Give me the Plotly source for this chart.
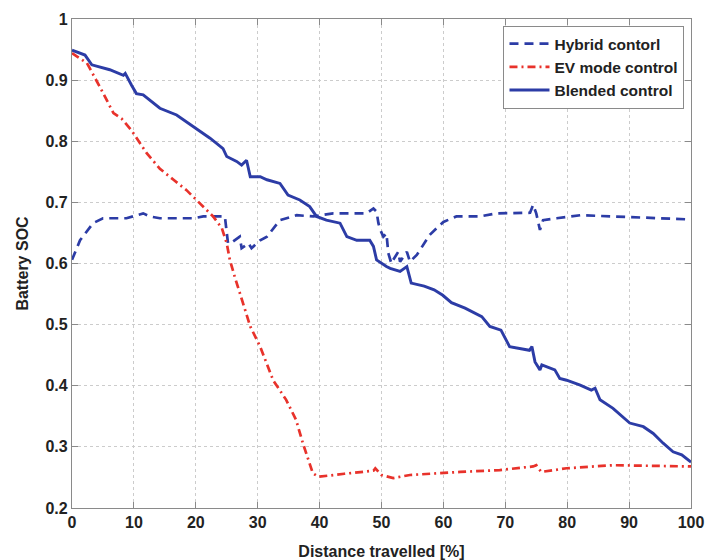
import plotly.graph_objects as go

# ---- data ----
blended_x = [0, 2.1, 3.2, 6.1, 8.3, 8.6, 9.6, 10.4, 11.5, 14.2, 16.9, 19.6, 22.3, 24.4, 25.0, 26.6, 27.4,
             28.2, 28.8, 30.4, 31.5, 33.6, 34.9, 36.8, 38.4, 39.5, 41.1, 43.3, 44.4, 46.0, 48.1, 48.7, 49.2,
             50.8, 51.4, 53.0, 54.1, 54.8, 56.9, 58.5, 59.9, 61.3, 63.5, 66.2, 67.5, 69.3, 70.7, 73.9, 74.3,
             74.8, 75.6, 75.9, 78.0, 78.8, 79.9, 82.1, 83.9, 84.5, 85.3, 87.4, 90.1, 92.3, 93.9, 95.5, 97.1,
             98.5, 100]
blended_y = [0.949, 0.941, 0.925, 0.917, 0.908, 0.911, 0.892, 0.878, 0.876, 0.854, 0.843, 0.824, 0.805,
             0.788, 0.775, 0.767, 0.761, 0.769, 0.742, 0.742, 0.737, 0.731, 0.712, 0.704, 0.693, 0.677,
             0.671, 0.666, 0.644, 0.638, 0.638, 0.628, 0.606, 0.595, 0.592, 0.587, 0.595, 0.568, 0.563,
             0.557, 0.548, 0.536, 0.527, 0.513, 0.497, 0.491, 0.464, 0.458, 0.464, 0.439, 0.426, 0.434,
             0.426, 0.412, 0.409, 0.401, 0.393, 0.396, 0.377, 0.363, 0.339, 0.333, 0.322, 0.306, 0.292,
             0.287, 0.275]

ev_x = [0, 2.4, 4.5, 6.7, 8.0, 9.6, 12.1, 14.2, 16.4, 18.5, 20.7, 22.8, 24.2, 25.0, 25.5, 26.3, 28.8,
        30.4, 32.5, 34.6, 36.2, 37.3, 38.9, 39.8, 44, 48.7, 49.0, 50.0, 51.9, 54.6, 62.7, 69.1, 74.5,
        75.0, 75.8, 79.9, 87.4, 100]
ev_y = [0.944, 0.928, 0.889, 0.846, 0.837, 0.818, 0.780, 0.755, 0.737, 0.720, 0.698, 0.677, 0.658,
        0.633, 0.606, 0.578, 0.497, 0.464, 0.409, 0.377, 0.344, 0.306, 0.257, 0.251, 0.256, 0.261,
        0.265, 0.254, 0.249, 0.254, 0.259, 0.262, 0.268, 0.270, 0.259, 0.265, 0.270, 0.268]

hybrid_x = [0, 1.3, 3.4, 5.0, 8.8, 11.5, 12.6, 14.2, 19.6, 21.2, 24.7, 25.0, 25.2, 26.0, 27.1, 27.4,
            28.5, 29.0, 30.4, 31.5, 33.6, 36.3, 39.0, 42.2, 47.6, 48.7, 49.2, 49.5, 49.8, 50.3, 50.8,
            51.1, 51.6, 51.9, 52.7, 53.0, 54.1, 54.6, 55.7, 57.8, 60.0, 62.1, 65.9, 68.6, 74.0, 74.5,
            75.0, 75.6, 76.1, 78.3, 82.1, 90, 100]
hybrid_y = [0.606, 0.638, 0.666, 0.674, 0.674, 0.682, 0.677, 0.674, 0.674, 0.677, 0.677, 0.655, 0.633,
            0.636, 0.644, 0.625, 0.633, 0.625, 0.638, 0.644, 0.671, 0.679, 0.677, 0.682, 0.682, 0.690,
            0.685, 0.666, 0.655, 0.644, 0.649, 0.617, 0.600, 0.606, 0.619, 0.603, 0.619, 0.603, 0.614,
            0.647, 0.668, 0.677, 0.677, 0.682, 0.683, 0.696, 0.682, 0.655, 0.671, 0.674, 0.679, 0.676,
            0.672]

x_ticks = [0, 10, 20, 30, 40, 50, 60, 70, 80, 90, 100]
y_ticks = [0.2, 0.3, 0.4, 0.5, 0.6, 0.7, 0.8, 0.9, 1.0]
y_tick_labels = ["0.2", "0.3", "0.4", "0.5", "0.6", "0.7", "0.8", "0.9", "1"]

BLUE = "#2c3ca6"
RED = "#e8322b"
FONT = "Liberation Sans, Arial, sans-serif"

fig = go.Figure()
fig.add_trace(go.Scatter(x=hybrid_x, y=hybrid_y, mode="lines", name="Hybrid contorl",
                         line=dict(color=BLUE, width=2.7, dash="9px,6px")))
fig.add_trace(go.Scatter(x=ev_x, y=ev_y, mode="lines", name="EV mode control",
                         line=dict(color=RED, width=2.7, dash="8px,4px,2px,4px")))
fig.add_trace(go.Scatter(x=blended_x, y=blended_y, mode="lines", name="Blended control",
                         line=dict(color=BLUE, width=2.9)))

axis_common = dict(
    showline=True, linecolor="#8a8a8a", linewidth=1.3, mirror="ticks",
    ticks="inside", ticklen=6, tickcolor="#8a8a8a", tickwidth=1.2,
    showgrid=True, gridcolor="#cccccc", griddash="dot", gridwidth=1.2,
    zeroline=False, automargin=False,
    tickfont=dict(family=FONT, size=16, color="#222222", weight="bold"),
)

fig.update_xaxes(range=[0, 100], tickvals=x_ticks, ticktext=[str(v) for v in x_ticks],
                 title=dict(text="Distance travelled [%]", standoff=15,
                            font=dict(family=FONT, size=16, color="#222222", weight="bold")),
                 **axis_common)
fig.update_yaxes(range=[0.2, 1.0], tickvals=y_ticks, ticktext=y_tick_labels,
                 title=dict(text="Battery SOC", standoff=12,
                            font=dict(family=FONT, size=16, color="#222222", weight="bold")),
                 **axis_common)

fig.update_layout(
    width=705, height=560,
    margin=dict(l=72, r=14, t=19, b=52),
    paper_bgcolor="white", plot_bgcolor="white",
    showlegend=True,
    legend=dict(x=0.989, y=0.986, xanchor="right", yanchor="top",
                bgcolor="white", bordercolor="#8a8a8a", borderwidth=1.3,
                font=dict(family=FONT, size=15.5, color="#222222", weight="bold"),
                tracegroupgap=0, itemwidth=40),
)

fig.write_html("out.html")
